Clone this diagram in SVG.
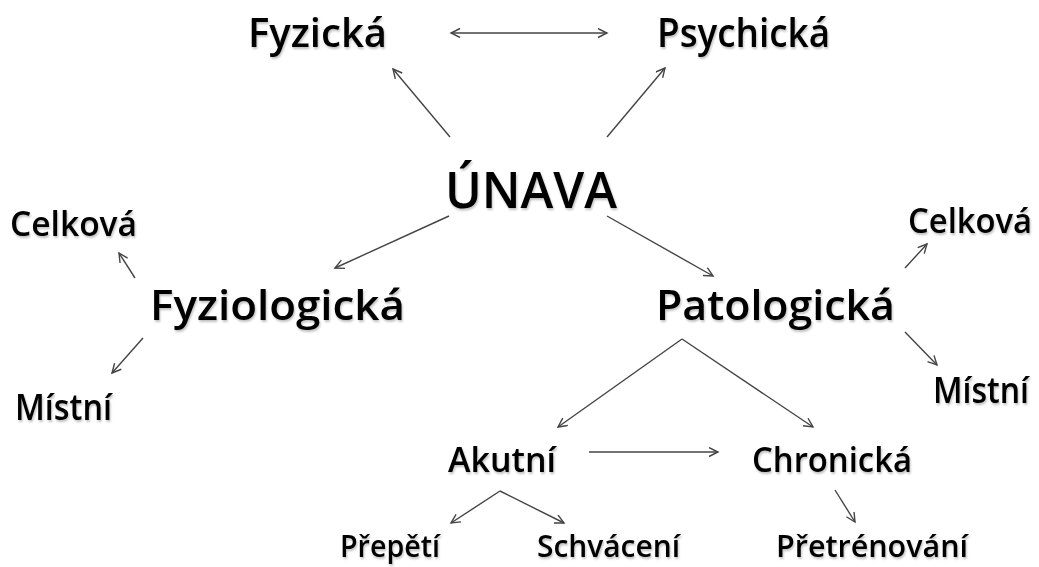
<svg xmlns="http://www.w3.org/2000/svg" width="1039" height="567" viewBox="0 0 1039 567">
<defs>
<marker id="ah" markerWidth="12" markerHeight="12" refX="10" refY="5" orient="auto-start-reverse" markerUnits="userSpaceOnUse">
<path d="M1,0.5 L10,5 L1,9.5" fill="none" stroke="#444" stroke-width="1.4"/>
</marker>
<filter id="sh" x="-5%" y="-10%" width="110%" height="130%">
<feGaussianBlur in="SourceAlpha" stdDeviation="1.2"/>
<feOffset dx="1" dy="2" result="b"/>
<feComponentTransfer><feFuncA type="linear" slope="0.25"/></feComponentTransfer>
<feMerge><feMergeNode/><feMergeNode in="SourceGraphic"/></feMerge>
</filter>
</defs>
<style>
text{font-family:"Open Sans","Liberation Sans",sans-serif;font-weight:600;fill:#000;filter:url(#sh)}
.c{fill:none;stroke:#444;stroke-width:1.4;marker-end:url(#ah)}
</style>
<rect width="1039" height="567" fill="#fff"/>
<g id="connectors">
<line class="c" x1="450" y1="137" x2="393" y2="69"/>
<line class="c" x1="607" y1="137" x2="665" y2="68"/>
<line class="c" x1="451" y1="33" x2="607" y2="33" marker-start="url(#ah)"/>
<line class="c" x1="449" y1="216" x2="335" y2="268"/>
<line class="c" x1="607" y1="216" x2="713" y2="276"/>
<line class="c" x1="135" y1="278" x2="119" y2="253"/>
<line class="c" x1="143" y1="338" x2="112" y2="373"/>
<line class="c" x1="905" y1="268" x2="927" y2="244"/>
<line class="c" x1="905" y1="332" x2="937" y2="365"/>
<line class="c" x1="682" y1="339" x2="558" y2="427"/>
<line class="c" x1="682" y1="339" x2="813" y2="427"/>
<line class="c" x1="589" y1="452" x2="718" y2="452"/>
<line class="c" x1="500" y1="491" x2="451" y2="523"/>
<line class="c" x1="500" y1="491" x2="564" y2="523"/>
<line class="c" x1="835" y1="490" x2="855" y2="522"/>
</g>
<g id="n-unava"><text x="445" y="208" font-size="50" textLength="172" lengthAdjust="spacingAndGlyphs">ÚNAVA</text></g>
<g id="n-fyzicka"><text x="248" y="47" font-size="40" textLength="139" lengthAdjust="spacingAndGlyphs">Fyzická</text></g>
<g id="n-psychicka"><text x="657" y="47" font-size="40" textLength="173" lengthAdjust="spacingAndGlyphs">Psychická</text></g>
<g id="n-fyziologicka"><text x="150" y="320" font-size="42" textLength="255" lengthAdjust="spacingAndGlyphs">Fyziologická</text></g>
<g id="n-patologicka"><text x="656" y="320" font-size="42" textLength="239" lengthAdjust="spacingAndGlyphs">Patologická</text></g>
<g id="n-celkova-l"><text x="10" y="236" font-size="34" textLength="127" lengthAdjust="spacingAndGlyphs">Celková</text></g>
<g id="n-mistni-l"><text x="15" y="420" font-size="36" textLength="97" lengthAdjust="spacingAndGlyphs">Místní</text></g>
<g id="n-celkova-r"><text x="908" y="233" font-size="34" textLength="124" lengthAdjust="spacingAndGlyphs">Celková</text></g>
<g id="n-mistni-r"><text x="933" y="403" font-size="36" textLength="96" lengthAdjust="spacingAndGlyphs">Místní</text></g>
<g id="n-akutni"><text x="448" y="472" font-size="35" textLength="108" lengthAdjust="spacingAndGlyphs">Akutní</text></g>
<g id="n-chronicka"><text x="752" y="472" font-size="35" textLength="160" lengthAdjust="spacingAndGlyphs">Chronická</text></g>
<g id="n-prepeti"><text x="340" y="557" font-size="30" textLength="100" lengthAdjust="spacingAndGlyphs">Přepětí</text></g>
<g id="n-schvaceni"><text x="537" y="557" font-size="30" textLength="143" lengthAdjust="spacingAndGlyphs">Schvácení</text></g>
<g id="n-pretrenovani"><text x="776" y="557" font-size="30" textLength="192" lengthAdjust="spacingAndGlyphs">Přetrénování</text></g>
</svg>
